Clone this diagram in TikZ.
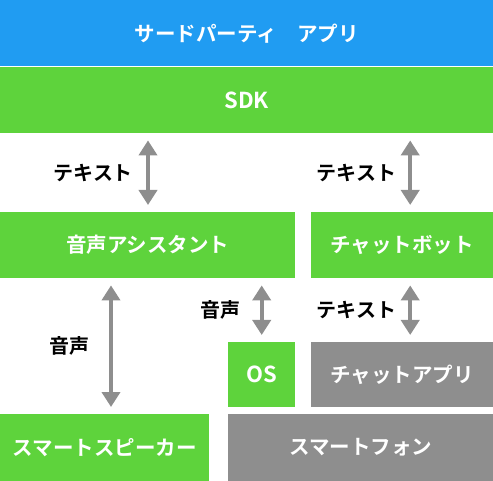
\documentclass[tikz,border=0pt]{standalone}
\usepackage{fontspec}
\setmainfont{Noto Sans CJK JP}[BoldFont={* Bold}]
\usetikzlibrary{arrows.meta}
\definecolor{appblue}{RGB}{32,156,242}
\definecolor{sdkgreen}{RGB}{94,211,60}
\definecolor{devgray}{RGB}{142,142,142}
\begin{document}
\begin{tikzpicture}[x=1pt, y=-1pt,
    box/.style={anchor=north west, inner sep=0pt, text=white,
        font=\fontsize{20.5}{23}\selectfont\bfseries},
    greenbox/.style={box, fill=sdkgreen},
    graybox/.style={box, fill=devgray},
    dbl/.style={{Triangle[width=18pt,length=15pt]}-{Triangle[width=18pt,length=15pt]},
        line width=4pt, devgray, shorten <=7pt, shorten >=7pt},
    lbl/.style={inner sep=0pt, text=black, font=\fontsize{20}{23}\selectfont\bfseries}]
    \useasboundingbox (0,0) rectangle (493,481);

    % Top layers
    \node[box, fill=appblue, minimum width=493pt, minimum height=66pt] (app) at (0,0) {サードパーティ　アプリ};
    \node[greenbox, minimum width=493pt, minimum height=66pt] (sdk) at (0,67) {\fontsize{22}{24}\selectfont SDK};

    % Middle
    \node[greenbox, minimum width=295pt, minimum height=66pt] (assist) at (0,212) {音声アシスタント};
    \node[greenbox, minimum width=182pt, minimum height=66pt] (bot) at (311,212) {チャットボット};

    % Devices
    \node[greenbox, minimum width=67pt, minimum height=65pt] (os) at (228,342) {\fontsize{22}{24}\selectfont OS};
    \node[graybox, minimum width=182pt, minimum height=65pt] (chat) at (311,342) {チャットアプリ};
    \node[greenbox, minimum width=209pt, minimum height=67pt] (speaker) at (0,414) {スマートスピーカー};
    \node[graybox, minimum width=265pt, minimum height=67pt] (phone) at (228,414) {スマートフォン};

    % Arrows
    \draw[dbl] ([xshift=148pt]sdk.south west) -- ([xshift=148pt]assist.north west)
        node[lbl, midway, left=13pt] (t1) {テキスト};
    \draw[dbl] ([xshift=8pt]sdk.south -| bot.north) -- ([xshift=8pt]bot.north)
        node[lbl, midway, left=12pt] (t2) {テキスト};
    \draw[dbl] ([xshift=111pt]assist.south west) -- ([xshift=111pt]speaker.north west)
        node[lbl, midway, left=20pt] (v1) {音声};
    \draw[dbl] (assist.south -| os.north) -- (os.north)
        node[lbl, midway, left=19pt] (v2) {音声};
    \draw[dbl] ([xshift=8pt]bot.south) -- ([xshift=8pt]chat.north)
        node[lbl, midway, left=12pt] (t3) {テキスト};
\end{tikzpicture}
\end{document}
